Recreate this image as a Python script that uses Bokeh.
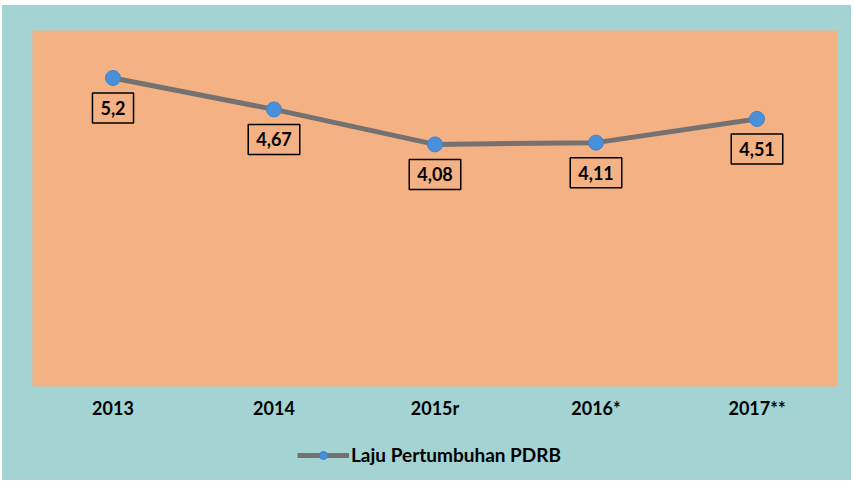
from bokeh.plotting import figure
from bokeh.models import Range1d, FixedTicker, Label, Legend, LegendItem, Spacer
from bokeh.layouts import column, row
from bokeh.embed import file_html
from bokeh.resources import INLINE

years = ["2013", "2014", "2015r", "2016*", "2017**"]
growth = [5.2, 4.67, 4.08, 4.11, 4.51]
value_labels = ["5,2", "4,67", "4,08", "4,11", "4,51"]
series_name = "Laju Pertumbuhan PDRB"

xs = [i + 0.5 for i in range(len(years))]

TEAL = "#a4d3d3"
ORANGE = "#f4b184"
LINE = "#767171"
BLUE = "#4a90d9"
FONT = "Lato"

p = figure(width=849, height=425, output_backend="svg", toolbar_location=None,
           x_range=Range1d(0, len(years)), y_range=Range1d(0, 6),
           min_border_left=30, min_border_right=14, min_border_top=25, min_border_bottom=44)
p.border_fill_color = TEAL
p.background_fill_color = ORANGE
p.outline_line_color = None
p.grid.grid_line_color = None
p.yaxis.visible = False

xa = p.xaxis[0]
xa.ticker = FixedTicker(ticks=xs)
xa.major_label_overrides = {x: y for x, y in zip(xs, years)}
xa.axis_line_color = None
xa.major_tick_line_color = None
xa.minor_tick_line_color = None
xa.major_tick_out = 0
xa.major_tick_in = 0
xa.major_label_standoff = 10
xa.major_label_text_font = FONT
xa.major_label_text_font_style = "bold"
xa.major_label_text_font_size = "18px"
xa.major_label_text_color = "black"

p.line(xs, growth, line_color=LINE, line_width=5)
p.scatter(xs, growth, size=15, fill_color=BLUE, line_color="#3f83cc", line_width=1)

for x, y, t in zip(xs, growth, value_labels):
    p.add_layout(Label(x=x, y=y, text=t, y_offset=-30,
                       text_align="center", text_baseline="middle",
                       text_font=FONT, text_font_style="bold", text_font_size="18px",
                       text_color="black",
                       border_line_color="black", border_line_width=1.5,
                       background_fill_color=None, padding=8))

# legend strip below the chart (proxy renderers placed outside the visible range)
lg = figure(width=849, height=50, output_backend="svg", toolbar_location=None,
            x_range=Range1d(0, 1), y_range=Range1d(0, 1),
            x_axis_type=None, y_axis_type=None,
            min_border_left=30, min_border_right=14, min_border_top=0, min_border_bottom=0)
lg.border_fill_color = None
lg.background_fill_color = None
lg.outline_line_color = None
lg.grid.grid_line_color = None
ln = lg.line([-10, -9], [-10, -10], line_color=LINE, line_width=5)
sc = lg.scatter([-10], [-10], size=15, fill_color=BLUE, line_color="#3f83cc", line_width=1)
legend = Legend(items=[LegendItem(label=series_name, renderers=[ln, sc])],
                location=(265, 14), orientation="horizontal",
                label_text_font=FONT, label_text_font_style="bold",
                label_text_font_size="19px", label_text_color="black",
                glyph_width=52, glyph_height=20, label_standoff=2,
                background_fill_alpha=0, border_line_color=None,
                padding=0, margin=0)
lg.add_layout(legend, "center")

chart = column(p, lg, styles={"background-color": TEAL})
layout = column(Spacer(height=5), row(Spacer(width=2), chart))

open("out.html", "w").write(file_html(layout, INLINE))
